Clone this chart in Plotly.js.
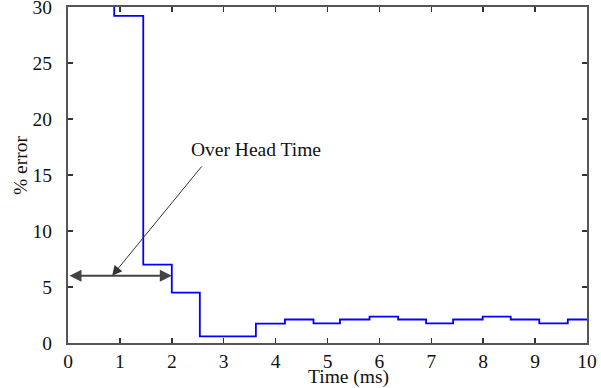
<!DOCTYPE html>
<html>
<head>
<meta charset="utf-8">
<script src="https://cdn.plot.ly/plotly-3.0.1.min.js"></script>
<style>html,body{margin:0;padding:0;background:#fff;}#chart{width:601px;height:388px;}</style>
</head>
<body>
<div id="chart"></div>
<script>
// Step series: each value holds from its time until the next time
var stepTimes = [0.89, 0.89, 1.45, 2.0, 2.54, 3.62, 4.18, 4.73, 5.24, 5.81, 6.36, 6.9, 7.42, 7.99, 8.53, 9.08, 9.63, 10.0];
var stepErrors = [32, 29.2, 7.0, 4.5, 0.6, 1.73, 2.1, 1.76, 2.1, 2.35, 2.1, 1.76, 2.1, 2.35, 2.1, 1.76, 2.1, 2.1];

var xTicks = [0,1,2,3,4,5,6,7,8,9,10];
var yTicks = [0,5,10,15,20,25,30];

// Overhead interval (ms) and its marker level (% error)
var overheadSpan = [0, 2.0];
var overheadLevel = 6;
var labelText = "Over Head Time";
var labelPos = [3.62, 17.3];
var pointerTail = [2.6, 15.9];
var pointerHead = [0.85, 6];

var serif = "Liberation Serif, Times New Roman, serif";
var fs = 19.5;

var trace = {
  x: stepTimes, y: stepErrors, type: 'scatter', mode: 'lines',
  line: {shape: 'hv', color: '#0000ff', width: 1.8},
  hoverinfo: 'skip', showlegend: false
};

var axisCommon = {
  showgrid: false, zeroline: false, showline: true, linecolor: '#555', linewidth: 2,
  mirror: 'ticks', ticks: 'inside', ticklen: 5, tickwidth: 1.5, tickcolor: '#333',
  ticklabeloverflow: 'allow',
  tickfont: {family: serif, size: fs, color: '#111'}
};

var layout = {
  width: 601, height: 388,
  margin: {l: 68, r: 14, t: 7, b: 45},
  paper_bgcolor: '#fff', plot_bgcolor: '#fff',
  xaxis: Object.assign({}, axisCommon, {range: [0, 10], tickvals: xTicks, ticktext: xTicks.map(String), ticklabelstandoff: 0}),
  yaxis: Object.assign({}, axisCommon, {range: [0, 30], tickvals: yTicks, ticktext: yTicks.map(String), ticklabelstandoff: 10}),
  annotations: [
    {xref: 'paper', yref: 'paper', x: (348 - 68) / 519, y: -(377 - 343) / 336, text: 'Time (ms)', showarrow: false,
     font: {family: serif, size: fs, color: '#111'}, xanchor: 'center', yanchor: 'middle'},
    {xref: 'paper', yref: 'paper', x: -(68 - 20) / 519, y: (343 - 165) / 336, text: '% error', showarrow: false, textangle: -90,
     font: {family: serif, size: fs, color: '#111'}, xanchor: 'center', yanchor: 'middle'},
    {xref: 'x', yref: 'y', x: labelPos[0], y: labelPos[1], text: labelText, showarrow: false,
     font: {family: serif, size: fs, color: '#111'}, xanchor: 'center', yanchor: 'middle'},
    {xref: 'x', yref: 'y', x: pointerHead[0], y: pointerHead[1], axref: 'x', ayref: 'y', ax: pointerTail[0], ay: pointerTail[1],
     text: '', showarrow: true, arrowhead: 2, arrowsize: 2, arrowwidth: 1, arrowcolor: '#333'},
    {xref: 'x', yref: 'y', x: overheadSpan[1], y: overheadLevel, axref: 'x', ayref: 'y', ax: overheadSpan[0], ay: overheadLevel,
     text: '', showarrow: true, arrowhead: 2, arrowside: 'end+start', arrowsize: 1.2, arrowwidth: 2, arrowcolor: '#444'}
  ]
};

Plotly.newPlot('chart', [trace], layout, {displayModeBar: false, staticPlot: true});
</script>
</body>
</html>
